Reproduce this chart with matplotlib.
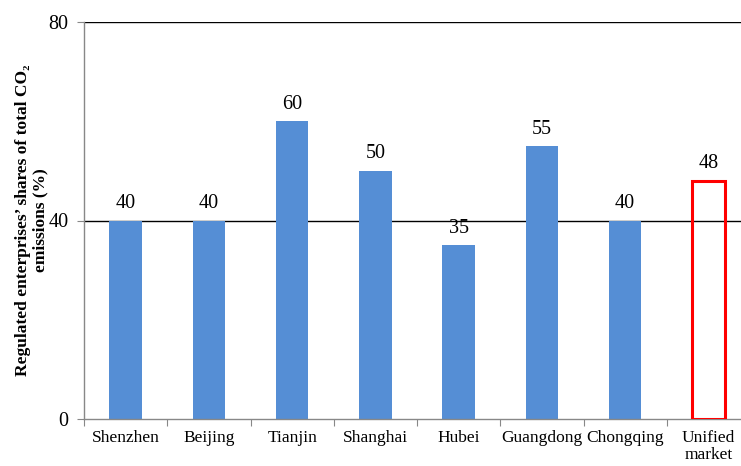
import numpy as np
import matplotlib
matplotlib.use('Agg')
import matplotlib.pyplot as plt

# ─── Datos ────────────────────────────────────────────────────────────────────
regions = ['Shenzhen', 'Beijing', 'Tianjin', 'Shanghai', 'Hubei',
           'Guangdong', 'Chongqing', 'Unified\nmarket']
shares = [40, 40, 60, 50, 35, 55, 40, 48]
yticks = [0, 40, 80]

BLUE = '#558ED5'
RED = '#FF0000'
SERIF = ['Liberation Serif', 'DejaVu Serif']

fig = plt.figure(figsize=(7.41, 4.66), dpi=100)
ax = fig.add_axes([84 / 741, 1 - 419 / 466, 666 / 741, 397 / 466])

x = np.arange(len(regions))
n_pilot = len(regions) - 1
ax.bar(x[:n_pilot], shares[:n_pilot], width=0.39, color=BLUE, zorder=2)
ax.bar(x[n_pilot], shares[n_pilot], width=0.39, facecolor='none',
       edgecolor=RED, linewidth=2.2, zorder=3)

for xi, v in zip(x, shares):
    ax.text(xi, v + 1.5, str(v), ha='center', va='bottom', fontsize=14.5,
            family=SERIF)

ax.set_xlim(-0.5, len(regions) - 0.5)
ax.set_ylim(0, 80)
ax.set_yticks(yticks)
ax.set_yticklabels([str(t) for t in yticks], fontsize=14.5, family=SERIF)
ax.set_xticks(np.arange(len(regions) + 1) - 0.5, minor=False)
ax.set_xticklabels([])
ax.set_xticks(x, minor=True)
ax.set_xticklabels(regions, minor=True, fontsize=12.5, family=SERIF,
                   linespacing=1.1)
ax.tick_params(axis='x', which='minor', length=0, pad=8)
ax.tick_params(axis='x', which='major', length=5, color='#888888')
ax.tick_params(axis='y', length=5, color='#888888', pad=6)

for yv in [40, 80]:
    ax.axhline(yv, color='black', lw=1.0, zorder=1)

for side in ['top', 'right']:
    ax.spines[side].set_visible(False)
for side in ['left', 'bottom']:
    ax.spines[side].set_color('#888888')
    ax.spines[side].set_linewidth(1.0)

ax.set_ylabel('Regulated enterprises\u2019 shares of total CO\u2082\nemissions (%)',
              fontsize=12.5, fontweight='bold', family=SERIF, labelpad=0,
              linespacing=1.15)

fig.savefig('out.png', dpi=100)
